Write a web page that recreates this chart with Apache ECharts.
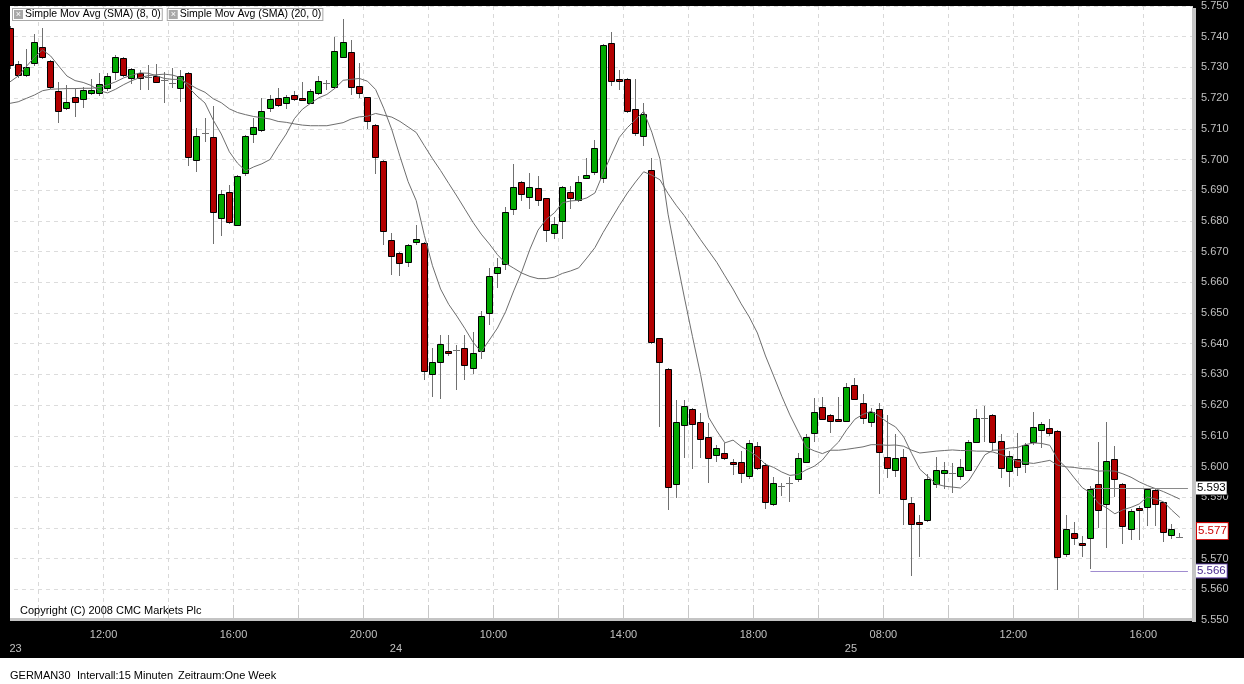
<!DOCTYPE html>
<html>
<head>
<meta charset="utf-8">
<script src="https://cdn.jsdelivr.net/npm/echarts@6/dist/echarts.min.js"></script>
<style>
html,body{margin:0;padding:0;background:#000;}
#chart{width:1244px;height:684px;}
</style>
</head>
<body>
<div id="chart"></div>
<script>
// ---- sessions (day, first candle time, number of 15-minute candles) ----
const sessions = [['23', '09:00', 48], ['24', '07:00', 56], ['25', '07:00', 41]];

// ---- OHLC values (index points) ----
const open = [
  5742.7, 5731.0, 5727.5, 5731.3, 5736.7, 5732.0, 5722.3, 5716.7, 5720.3, 5719.6,
  5721.6, 5721.6, 5723.5, 5728.4, 5733.0, 5726.4, 5728.1, 5727.0, 5727.2, 5725.9,
  5724.8, 5723.5, 5728.1, 5699.8, 5708.5, 5707.2, 5680.8, 5689.5, 5678.9, 5695.8,
  5708.5, 5709.6, 5716.7, 5720.1, 5718.6, 5721.0, 5720.1, 5718.6, 5721.6, 5724.8,
  5723.5, 5733.3, 5734.9, 5724.0, 5720.3, 5711.2, 5699.5, 5673.8, 5669.4, 5666.7,
  5673.0, 5672.7, 5630.1, 5633.9, 5637.5, 5638.0, 5638.5, 5632.0, 5637.7, 5649.9,
  5662.9, 5665.9, 5683.8, 5692.6, 5687.7, 5690.6, 5687.4, 5676.0, 5679.8, 5689.5,
  5686.8, 5693.9, 5695.8, 5693.9, 5737.8, 5726.1, 5726.1, 5716.4, 5707.4, 5696.6,
  5641.7, 5631.7, 5594.5, 5613.7, 5618.6, 5614.4, 5609.5, 5603.7, 5604.3, 5601.4,
  5601.4, 5596.9, 5606.7, 5600.5, 5587.8, 5593.6, 5594.5, 5595.8, 5601.6, 5610.8,
  5619.5, 5616.7, 5615.4, 5614.8, 5626.4, 5620.6, 5614.6, 5618.6, 5603.2, 5598.9,
  5603.2, 5588.2, 5582.0, 5582.3, 5594.5, 5597.8, 5597.8, 5596.7, 5598.9, 5607.9,
  5615.7, 5616.8, 5608.4, 5598.6, 5602.3, 5600.8, 5607.9, 5611.9, 5612.4, 5611.6,
  5571.4, 5578.2, 5575.1, 5576.6, 5594.2, 5587.7, 5602.4, 5594.2, 5579.6, 5586.4,
  5586.7, 5592.3, 5588.3, 5577.7, 5577.0
];
const close = [
  5730.5, 5727.5, 5730.2, 5738.2, 5733.3, 5723.5, 5715.7, 5718.6, 5718.6, 5722.6,
  5722.6, 5724.5, 5727.3, 5733.3, 5727.5, 5729.4, 5726.4, 5727.0, 5725.4, 5725.9,
  5724.8, 5727.3, 5700.7, 5707.7, 5708.5, 5682.8, 5688.7, 5679.7, 5694.7, 5707.7,
  5710.7, 5715.8, 5719.6, 5717.8, 5720.5, 5719.6, 5719.6, 5722.4, 5725.6, 5724.8,
  5735.3, 5738.2, 5723.5, 5721.6, 5712.6, 5700.7, 5676.8, 5668.7, 5666.0, 5672.1,
  5674.1, 5631.1, 5633.9, 5639.9, 5636.9, 5638.0, 5632.8, 5636.9, 5649.0, 5662.1,
  5664.9, 5682.8, 5690.9, 5688.8, 5690.9, 5686.8, 5677.0, 5678.9, 5690.9, 5687.7,
  5692.8, 5695.0, 5703.6, 5737.3, 5725.3, 5725.3, 5715.8, 5708.5, 5714.7, 5640.7,
  5633.9, 5593.4, 5614.6, 5619.8, 5613.7, 5608.9, 5602.7, 5605.9, 5602.7, 5600.7,
  5597.8, 5607.8, 5599.6, 5588.5, 5594.5, 5593.6, 5594.5, 5602.7, 5609.7, 5617.8,
  5615.7, 5614.8, 5614.8, 5625.8, 5621.9, 5615.7, 5617.8, 5604.6, 5599.7, 5602.7,
  5589.6, 5581.5, 5581.5, 5595.8, 5598.9, 5598.9, 5597.8, 5599.7, 5607.9, 5615.7,
  5615.7, 5607.9, 5599.7, 5603.5, 5599.7, 5606.9, 5612.8, 5613.7, 5610.8, 5570.4,
  5579.5, 5576.6, 5574.4, 5592.6, 5585.8, 5601.8, 5595.8, 5580.6, 5585.6, 5585.6,
  5592.6, 5587.7, 5578.6, 5579.5, 5577.0
];
const low = [
  5729.5, 5726.5, 5727.0, 5730.5, 5732.6, 5723.0, 5711.8, 5716.0, 5714.0, 5716.7,
  5721.0, 5720.8, 5722.4, 5725.9, 5727.0, 5724.5, 5722.6, 5722.6, 5725.0, 5718.5,
  5723.2, 5718.8, 5698.0, 5695.8, 5705.8, 5672.4, 5675.0, 5679.0, 5678.5, 5694.7,
  5705.5, 5709.0, 5715.6, 5717.0, 5716.4, 5719.0, 5719.0, 5718.0, 5721.0, 5722.5,
  5723.0, 5733.0, 5721.0, 5719.9, 5709.9, 5695.2, 5672.1, 5662.4, 5662.2, 5665.1,
  5672.0, 5628.2, 5622.7, 5622.0, 5636.0, 5624.9, 5628.2, 5630.0, 5634.9, 5646.0,
  5658.0, 5664.0, 5682.0, 5686.5, 5683.8, 5685.0, 5673.2, 5674.0, 5674.0, 5684.0,
  5686.0, 5693.5, 5695.0, 5692.5, 5724.0, 5722.6, 5715.0, 5707.5, 5704.4, 5640.0,
  5613.0, 5585.8, 5589.6, 5602.7, 5599.1, 5602.7, 5594.7, 5601.5, 5602.0, 5597.2,
  5594.7, 5596.0, 5599.0, 5586.0, 5587.0, 5590.4, 5588.5, 5595.0, 5601.0, 5608.0,
  5615.0, 5611.0, 5614.5, 5614.5, 5621.5, 5614.0, 5613.0, 5590.9, 5596.2, 5596.7,
  5581.0, 5564.4, 5570.6, 5582.0, 5593.0, 5592.6, 5591.5, 5595.5, 5598.5, 5607.5,
  5608.0, 5605.0, 5596.2, 5593.4, 5596.9, 5598.0, 5607.0, 5605.9, 5610.0, 5559.8,
  5570.5, 5574.5, 5570.6, 5566.5, 5580.0, 5573.3, 5590.0, 5574.8, 5576.0, 5576.1,
  5580.6, 5580.6, 5575.5, 5576.5, 5576.8
];
const high = [
  5743.5, 5732.0, 5735.9, 5740.9, 5742.7, 5732.5, 5725.4, 5724.3, 5722.9, 5723.5,
  5726.1, 5728.1, 5728.1, 5734.0, 5733.5, 5729.8, 5729.2, 5730.8, 5731.0, 5728.6,
  5729.7, 5729.2, 5728.5, 5710.2, 5713.4, 5717.4, 5690.0, 5691.7, 5695.0, 5708.0,
  5713.6, 5720.1, 5721.0, 5723.2, 5721.0, 5722.4, 5725.3, 5723.0, 5727.2, 5726.0,
  5740.0, 5745.7, 5738.9, 5731.3, 5720.5, 5711.5, 5700.0, 5676.0, 5670.0, 5672.5,
  5678.7, 5673.0, 5638.5, 5642.8, 5642.8, 5639.6, 5642.8, 5643.7, 5650.8, 5664.6,
  5668.0, 5684.4, 5698.5, 5693.0, 5695.5, 5694.6, 5687.5, 5681.4, 5691.5, 5691.5,
  5694.7, 5700.4, 5706.4, 5737.5, 5741.6, 5729.2, 5726.5, 5726.1, 5718.5, 5700.4,
  5642.0, 5632.0, 5621.7, 5621.7, 5619.0, 5617.3, 5614.3, 5607.0, 5607.5, 5602.5,
  5605.0, 5608.6, 5608.0, 5601.0, 5596.5, 5594.5, 5596.7, 5604.5, 5610.5, 5622.2,
  5622.5, 5617.0, 5622.5, 5627.3, 5628.7, 5623.6, 5619.0, 5620.6, 5616.8, 5610.6,
  5605.6, 5590.0, 5584.2, 5597.6, 5603.2, 5601.5, 5601.3, 5602.3, 5608.5, 5618.6,
  5619.7, 5617.0, 5610.5, 5605.0, 5610.8, 5607.5, 5617.8, 5614.5, 5615.4, 5612.0,
  5584.2, 5582.0, 5577.4, 5593.6, 5608.0, 5614.6, 5606.7, 5594.5, 5586.0, 5587.0,
  5593.0, 5593.0, 5588.5, 5581.3, 5578.2
];

// ---- moving averages as drawn on the chart ----
const sma8 = [
  5725.3, 5727.2, 5730.3, 5733.3, 5735.7, 5733.7, 5730.4, 5727.2, 5725.7, 5725.1,
  5724.1, 5722.4, 5721.7, 5722.9, 5724.4, 5725.7, 5726.7, 5727.3, 5727.6, 5727.8,
  5727.5, 5726.7, 5723.4, 5720.7, 5718.4, 5712.9, 5708.3, 5702.5, 5698.8, 5696.3,
  5697.6, 5698.6, 5700.0, 5704.3, 5708.3, 5713.3, 5716.4, 5718.3, 5720.1, 5721.2,
  5723.2, 5725.8, 5726.1, 5726.4, 5725.5, 5722.8, 5716.7, 5709.7, 5701.0, 5692.8,
  5686.6, 5675.3, 5665.4, 5657.8, 5652.8, 5649.0, 5644.9, 5640.5, 5637.3, 5641.2,
  5645.1, 5650.4, 5657.2, 5663.5, 5670.8, 5677.0, 5680.5, 5682.6, 5685.9, 5686.5,
  5686.7, 5687.5, 5689.1, 5695.4, 5701.4, 5707.2, 5710.4, 5713.0, 5715.7, 5708.9,
  5700.2, 5682.2, 5668.4, 5655.2, 5642.4, 5630.0, 5616.0, 5611.6, 5607.7, 5608.6,
  5606.5, 5605.0, 5603.3, 5600.7, 5599.7, 5598.2, 5597.1, 5597.4, 5598.9, 5600.1,
  5602.1, 5605.4, 5608.0, 5612.0, 5615.4, 5617.0, 5618.0, 5616.4, 5614.4, 5612.9,
  5609.7, 5604.2, 5599.1, 5596.7, 5594.3, 5593.6, 5593.3, 5593.0, 5595.3, 5599.5,
  5603.8, 5605.3, 5605.4, 5606.0, 5606.2, 5607.1, 5607.7, 5607.5, 5606.9, 5602.2,
  5599.7, 5596.3, 5593.1, 5591.4, 5588.0, 5586.5, 5584.6, 5585.9, 5586.7, 5587.8,
  5590.1, 5589.4, 5588.5, 5585.8, 5583.4
];
const sma20 = [
  5718.3, 5718.8, 5719.9, 5721.0, 5722.4, 5722.9, 5723.0, 5723.1, 5723.1, 5723.2,
  5723.2, 5723.5, 5724.3, 5725.3, 5726.6, 5727.5, 5728.2, 5728.1, 5727.3, 5726.4,
  5726.1, 5726.1, 5724.6, 5723.1, 5721.9, 5719.8, 5718.5, 5716.5, 5715.3, 5714.6,
  5714.0, 5713.6, 5713.2, 5712.4, 5712.1, 5711.6, 5711.2, 5711.0, 5711.0, 5711.0,
  5711.5, 5712.0, 5713.2, 5713.9, 5714.1, 5715.0, 5714.4, 5713.8, 5712.4, 5710.6,
  5708.8, 5704.5, 5700.3, 5696.4, 5692.2, 5688.1, 5683.8, 5679.5, 5675.7, 5672.5,
  5669.0, 5666.2, 5664.6, 5663.0, 5661.9, 5661.2, 5661.2, 5661.7, 5662.9, 5663.7,
  5664.7, 5667.9, 5671.3, 5676.2, 5680.6, 5685.0, 5689.1, 5692.7, 5696.0, 5694.9,
  5693.4, 5688.9, 5685.1, 5681.7, 5677.8, 5673.9, 5670.2, 5666.5, 5662.1, 5657.8,
  5653.0, 5648.7, 5643.5, 5636.0, 5629.5, 5622.9, 5616.8, 5611.5, 5606.3, 5605.1,
  5604.2, 5605.3, 5605.3, 5605.6, 5606.0, 5606.4, 5607.1, 5607.1, 5606.9, 5607.0,
  5606.6, 5605.3, 5604.4, 5604.7, 5605.0, 5605.2, 5605.4, 5605.2, 5605.2, 5605.0,
  5605.0, 5604.7, 5603.9, 5602.8, 5601.7, 5601.3, 5601.0, 5601.5, 5602.0, 5600.4,
  5599.9, 5599.7, 5599.3, 5599.2, 5598.5, 5598.6, 5598.5, 5597.6, 5596.5, 5595.0,
  5593.8, 5592.8, 5591.8, 5590.6, 5589.4
];

// ---- reference levels shown on the price axis ----
const refStartIndex = 133;   // candle where the high/low lines start
const refHigh = 5593;
const refLow = 5566;
const lastPrice = 5577;

const seriesNames = ['Simple Mov Avg (SMA) (8, 0)', 'Simple Mov Avg (SMA) (20, 0)'];
const footerTexts = ['GERMAN30', 'Intervall:15 Minuten', 'Zeitraum:One Week'];
const copyrightText = 'Copyright (C) 2008 CMC Markets Plc';

// ---- build categories ----
const categories = [];
sessions.forEach(([day, start, n]) => {
  let [h, m] = start.split(':').map(Number);
  for (let k = 0; k < n; k++) {
    categories.push(day + ' ' + String(h).padStart(2, '0') + ':' + String(m).padStart(2, '0'));
    m += 15; if (m >= 60) { m -= 60; h++; }
  }
});
categories.push(' ');  // empty slot at the right edge
const lastIdx = categories.length - 1;
const dayStart = new Set(categories.map((c, i) => (i === 0 || c.split(' ')[0] !== categories[i - 1].split(' ')[0]) && c.trim() ? i : -1).filter(i => i >= 0));

const candleData = open.map((o, i) => [i, o, close[i], low[i], high[i]]);

const FONT = '"Liberation Sans", Arial, sans-serif';
const UP = '#00a800', DOWN = '#b20000', WICK = '#707070';

function renderCandle(params, api) {
  const i = api.value(0), o = api.value(1), c = api.value(2), l = api.value(3), h = api.value(4);
  const po = api.coord([i, o]), pc = api.coord([i, c]), pl = api.coord([i, l]), ph = api.coord([i, h]);
  const xc = Math.floor(po[0]) + 0.5;
  const children = [{
    type: 'line',
    shape: { x1: xc, y1: Math.round(ph[1]), x2: xc, y2: Math.round(pl[1]) },
    style: { stroke: WICK, lineWidth: 1 }
  }];
  if (Math.abs(o - c) < 0.05) {
    const y = Math.round(po[1]) + 0.5;
    children.push({ type: 'line', shape: { x1: xc - 3.5, y1: y, x2: xc + 3.5, y2: y }, style: { stroke: WICK, lineWidth: 1 } });
  } else {
    const top = Math.round(Math.min(po[1], pc[1])) + 0.5;
    const hgt = Math.max(1, Math.round(Math.abs(po[1] - pc[1])));
    children.push({
      type: 'rect',
      shape: { x: xc - 3, y: top, width: 6, height: hgt },
      style: { fill: c > o ? UP : DOWN, stroke: '#000', lineWidth: 1 }
    });
  }
  return { type: 'group', children };
}

const boxLabel = (txt, color, border, extra) => Object.assign({
  show: true, position: 'end', formatter: txt, color: color, fontSize: 11.5, fontFamily: FONT,
  backgroundColor: '#fff', borderColor: border, borderWidth: 1, padding: [1, 1, 0, 1]
}, extra || {});

const chart = echarts.init(document.getElementById('chart'), null, { renderer: 'canvas' });
chart.setOption({
  backgroundColor: '#000',
  animation: false,
  textStyle: { fontFamily: FONT },
  grid: { left: 6, top: 6, width: 1186, height: 614, show: true, backgroundColor: '#fff', borderWidth: 0 },
  legend: {
    data: seriesNames, left: 8, top: 8, itemGap: 0, itemWidth: 0, itemHeight: 0, padding: 0,
    selectedMode: false, icon: 'rect',
    formatter: n => '{i|×}{t|' + n + '}',
    textStyle: {
      color: '#000', fontSize: 10.5, fontFamily: FONT, backgroundColor: '#fff',
      borderColor: '#a8a8a8', borderWidth: 1, padding: [0, 1, 0, 1],
      rich: {
        i: { backgroundColor: '#a8a8a8', color: '#fff', width: 9, height: 9, lineHeight: 9, fontSize: 9, align: 'center' },
        t: { color: '#000', fontSize: 10.5, fontFamily: FONT, padding: [0, 0, 0, 2], lineHeight: 11 }
      }
    }
  },
  xAxis: [{
    type: 'category', data: categories, boundaryGap: true, gridIndex: 0, position: 'bottom',
    axisLine: { show: false },
    axisTick: { show: true, inside: true, length: 15, interval: (i) => i % 8 === 4, lineStyle: { color: '#c8c8c8' } },
    splitLine: { show: true, interval: (i) => i % 8 === 4, lineStyle: { color: '#d8d8d8', type: [4, 4] } },
    axisLabel: {
      show: true, margin: 9, interval: (i) => i >= 12 && (i - 12) % 16 === 0,
      formatter: (v) => '{a|' + v.split(' ')[1] + '}',
      rich: { a: { color: '#c0c0c0', fontSize: 11, fontFamily: FONT, padding: [0, 8, 0, 0] } }
    }
  }, {
    type: 'category', data: categories, boundaryGap: true, gridIndex: 0, position: 'bottom', offset: 14,
    axisLine: { show: false }, axisTick: { show: false }, splitLine: { show: false },
    axisLabel: {
      show: true, margin: 9, interval: (i) => dayStart.has(i),
      formatter: (v, i) => (i === 0 ? '{f|' : '{a|') + v.split(' ')[0] + '}',
      rich: {
        a: { color: '#c0c0c0', fontSize: 11, fontFamily: FONT, padding: [0, 8, 0, 0] },
        f: { color: '#c0c0c0', fontSize: 11, fontFamily: FONT, padding: [0, 0, 0, 11] }
      }
    }
  }],
  yAxis: {
    type: 'value', position: 'right', min: 5550, max: 5750, interval: 10,
    axisLine: { show: false }, axisTick: { show: false },
    axisLabel: { color: '#c0c0c0', fontSize: 11, fontFamily: FONT, margin: 9, formatter: v => (v / 1000).toFixed(3) },
    splitLine: { show: true, lineStyle: { color: '#dcdcdc', type: [4, 4] } }
  },
  series: [{
    name: 'GERMAN30', type: 'custom', renderItem: renderCandle, data: candleData,
    encode: { x: 0, y: [1, 2, 3, 4] }, clip: true, z: 2
  }, {
    name: seriesNames[0], type: 'line', data: sma8, showSymbol: false, symbol: 'none',
    lineStyle: { color: '#6e6e6e', width: 1 }, itemStyle: { color: '#6e6e6e' }, z: 3, silent: true
  }, {
    name: seriesNames[1], type: 'line', data: sma20, showSymbol: false, symbol: 'none',
    lineStyle: { color: '#6e6e6e', width: 1 }, itemStyle: { color: '#6e6e6e' }, z: 3, silent: true,
    markLine: {
      silent: true, symbol: ['none', 'none'], animation: false, precision: 3,
      data: [
        [
          { coord: [refStartIndex, refHigh], lineStyle: { color: '#8a8a8a', width: 1, type: 'solid' },
            label: boxLabel((refHigh / 1000).toFixed(3), '#000', '#000', { distance: 8 }) },
          { coord: [lastIdx, refHigh], lineStyle: { color: '#8a8a8a', width: 1, type: 'solid' },
            label: boxLabel((refHigh / 1000).toFixed(3), '#000', '#000', { distance: 8 }) }
        ],
        [
          { coord: [refStartIndex, refLow], lineStyle: { color: '#a08cd0', width: 1, type: 'solid' },
            label: boxLabel((refLow / 1000).toFixed(3), '#4a2a90', '#5a3aa0', { distance: 8 }) },
          { coord: [lastIdx, refLow], lineStyle: { color: '#a08cd0', width: 1, type: 'solid' },
            label: boxLabel((refLow / 1000).toFixed(3), '#4a2a90', '#5a3aa0', { distance: 8 }) }
        ],
        {
          yAxis: lastPrice, lineStyle: { color: 'rgba(0,0,0,0)', width: 0 },
          label: boxLabel((lastPrice / 1000).toFixed(3), '#cc0000', '#cc0000', { distance: 5, offset: [0, -6], padding: [3, 1, 1, 1] })
        }
      ]
    }
  }],
  graphic: [
    { type: 'rect', shape: { x: 0, y: 658, width: 1244, height: 26 }, style: { fill: '#fff' }, z: 0 },
    { type: 'rect', shape: { x: 0, y: 0, width: 10, height: 622 }, style: { fill: '#000' }, z: 100 },
    { type: 'rect', shape: { x: 1192, y: 8, width: 4, height: 614 }, style: { fill: '#c4c4c4' }, z: 100 },
    { type: 'rect', shape: { x: 10, y: 618, width: 1186, height: 3 }, style: { fill: '#c4c4c4' }, z: 100 },
    { type: 'text', x: 20, y: 611, z: 100, style: { text: copyrightText, fill: '#000', font: '11px ' + FONT, textVerticalAlign: 'middle' } },
    { type: 'text', x: 10, y: 676, z: 100, style: { text: footerTexts[0], fill: '#000', font: '11px ' + FONT, textVerticalAlign: 'middle' } },
    { type: 'text', x: 77, y: 676, z: 100, style: { text: footerTexts[1], fill: '#000', font: '11px ' + FONT, textVerticalAlign: 'middle' } },
    { type: 'text', x: 178, y: 676, z: 100, style: { text: footerTexts[2], fill: '#000', font: '11px ' + FONT, textVerticalAlign: 'middle' } }
  ]
});
</script>
</body>
</html>
